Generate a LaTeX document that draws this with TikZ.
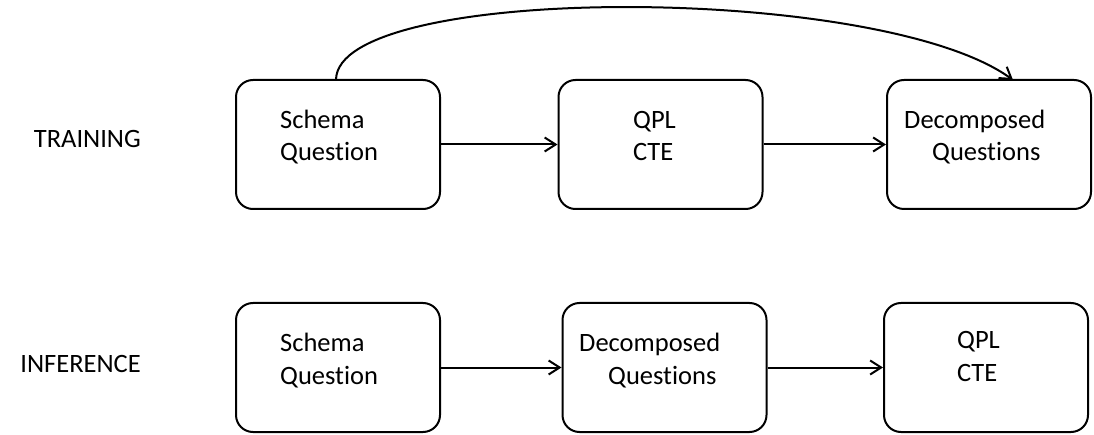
\documentclass[tikz,border=0pt]{standalone}
\usepackage{fontspec}
\setmainfont{Carlito}[Ligatures=NoCommon]
\usetikzlibrary{arrows.meta}
\begin{document}
\begin{tikzpicture}[x=1pt,y=-1pt,
  box/.style={draw,line width=2pt,rounded corners=17pt,minimum width=204pt,minimum height=129pt,inner sep=0pt},
  txt/.style={anchor=base west,inner sep=0pt,font=\fontsize{26.5}{32}\selectfont},
  lbl/.style={anchor=base east,inner sep=0pt,font=\fontsize{26.5}{32}\selectfont},
  arr/.style={line width=2pt,-{Straight Barb[length=11pt,width=14pt,line width=2pt]}}]
\useasboundingbox (0,0) rectangle (1094,435);
% training row
\node[box] (t1) at (338,144.5) {};
\node[box] (t2) at (660.5,144.5) {};
\node[box] (t3) at (989,144.5) {};
\node[lbl] (tl) at (141,148) {TRAINING};
\node[txt] (t1a) at (280,129) {Schema};
\node[txt] (t1b) at (280,161) {Question};
\node[txt] (t2a) at (633,129) {QPL};
\node[txt] (t2b) at (633,161) {CTE};
\node[txt] (t3a) at (904,129) {Decomposed};
\node[txt] (t3b) at (932,161) {Questions};
\draw[arr] (t1.east) -- (t2.west);
\draw[arr] (t2.east) -- (t3.west);
\coordinate (cs) at (336,80);
\coordinate (ce) at (1013,80);
\draw[arr] (cs) .. controls (336,-17) and (880,-17) .. (ce);
% inference row
\node[box] (i1) at (338,367.5) {};
\node[box] (i2) at (664.5,367.5) {};
\node[box] (i3) at (986,367.5) {};
\node[lbl] (il) at (141,372) {INFERENCE};
\node[txt] (i1a) at (280,352) {Schema};
\node[txt] (i1b) at (280,384) {Question};
\node[txt] (i2a) at (579,352) {Decomposed};
\node[txt] (i2b) at (608,384) {Questions};
\node[txt] (i3a) at (957,348) {QPL};
\node[txt] (i3b) at (957,381) {CTE};
\draw[arr] (i1.east) -- (i2.west);
\draw[arr] (i2.east) -- (i3.west);
\end{tikzpicture}
\end{document}
